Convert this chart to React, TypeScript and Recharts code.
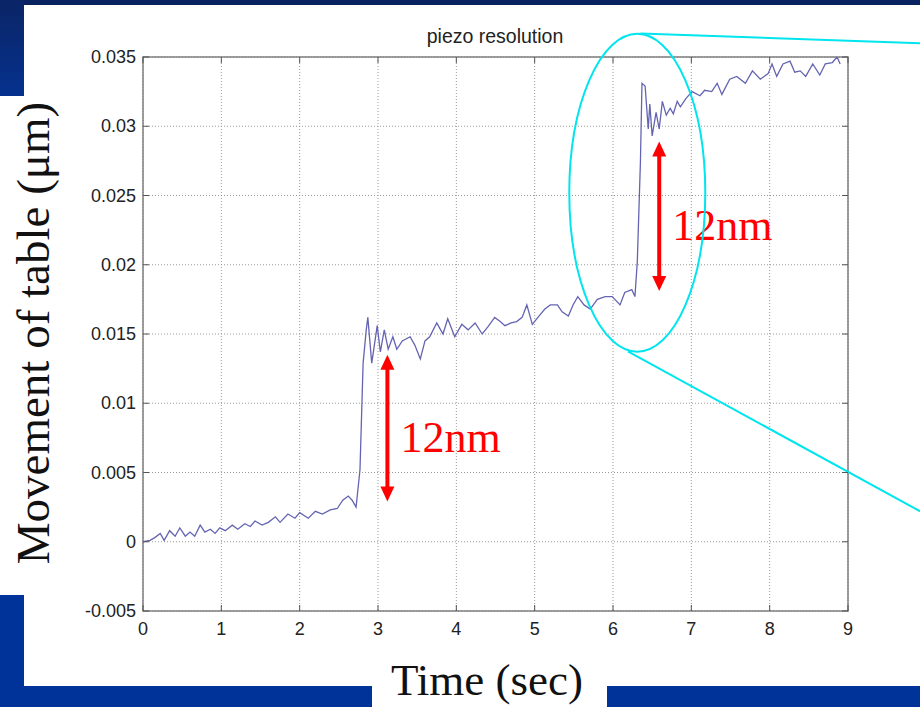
import React from "react";
import {
  LineChart,
  Line,
  XAxis,
  YAxis,
  CartesianGrid,
  ReferenceArea,
  ReferenceLine,
  ReferenceDot,
} from "recharts";

// sample times (sec)
const timeSec = [
  0.0, 0.09, 0.15, 0.22, 0.27, 0.34, 0.41, 0.47, 0.54, 0.6, 0.66, 0.73, 0.79,
  0.86, 0.92, 0.98, 1.05, 1.14, 1.21, 1.3, 1.37, 1.43, 1.52, 1.6, 1.69, 1.75,
  1.85, 1.94, 2.0, 2.11, 2.2, 2.29, 2.39, 2.48, 2.55, 2.62, 2.67, 2.72, 2.77,
  2.81, 2.85, 2.87, 2.92, 2.99, 3.03, 3.08, 3.13, 3.19, 3.24, 3.31, 3.41, 3.47,
  3.54, 3.6, 3.66, 3.75, 3.83, 3.89, 3.98, 4.07, 4.15, 4.24, 4.33, 4.4, 4.49,
  4.56, 4.62, 4.7, 4.77, 4.84, 4.9, 4.97, 5.07, 5.13, 5.2, 5.29, 5.35, 5.43,
  5.49, 5.55, 5.63, 5.71, 5.8, 5.9, 5.99, 6.09, 6.15, 6.24, 6.28, 6.31, 6.35,
  6.37, 6.41, 6.45, 6.47, 6.5, 6.55, 6.59, 6.63, 6.68, 6.73, 6.77, 6.82, 6.86,
  6.93, 7.01, 7.11, 7.17, 7.26, 7.33, 7.39, 7.49, 7.58, 7.69, 7.78, 7.88, 7.98,
  8.03, 8.09, 8.17, 8.26, 8.32, 8.39, 8.46, 8.55, 8.64, 8.71, 8.8, 8.86, 8.9,
];

// table movement (um)
const movementUm = [
  0.0, 0.0001, 0.0003, 0.0006, 0.0001, 0.0008, 0.0004, 0.001, 0.0004, 0.0007,
  0.0004, 0.0012, 0.0007, 0.0009, 0.0006, 0.001, 0.0008, 0.0012, 0.0009,
  0.0013, 0.0011, 0.0015, 0.0012, 0.0014, 0.0018, 0.0014, 0.002, 0.0017,
  0.0021, 0.0017, 0.0022, 0.002, 0.0023, 0.0024, 0.003, 0.0033, 0.003, 0.0025,
  0.0052, 0.0129, 0.0153, 0.0162, 0.0129, 0.0156, 0.0137, 0.0153, 0.0139,
  0.0148, 0.0139, 0.0145, 0.0148, 0.0142, 0.0132, 0.0145, 0.0148, 0.0158,
  0.015, 0.0161, 0.0148, 0.0157, 0.0153, 0.0158, 0.015, 0.0155, 0.0162, 0.0159,
  0.0156, 0.0158, 0.0159, 0.0162, 0.0171, 0.0157, 0.0164, 0.0168, 0.0171,
  0.0171, 0.0166, 0.0163, 0.0171, 0.0177, 0.0171, 0.0168, 0.0175, 0.0177,
  0.0177, 0.0171, 0.018, 0.0182, 0.0177, 0.0202, 0.0274, 0.0331, 0.0329,
  0.0298, 0.0316, 0.0293, 0.031, 0.0298, 0.0318, 0.0308, 0.0313, 0.0309,
  0.0318, 0.0314, 0.032, 0.0325, 0.0322, 0.0326, 0.0325, 0.0331, 0.0323,
  0.0334, 0.0336, 0.0331, 0.034, 0.0334, 0.0338, 0.0345, 0.0336, 0.0345,
  0.0347, 0.0339, 0.034, 0.0336, 0.0345, 0.0337, 0.0345, 0.0346, 0.035, 0.0345,
];

const xTicks = [0, 1, 2, 3, 4, 5, 6, 7, 8, 9];
const yTicks = [-0.005, 0, 0.005, 0.01, 0.015, 0.02, 0.025, 0.03, 0.035];
const yTickLabels = ["-0.005", "0", "0.005", "0.01", "0.015", "0.02", "0.025", "0.03", "0.035"];

const data = timeSec.map((t, i) => ({ t, v: movementUm[i] }));

const W = 920;
const H = 707;
const PLOT_L = 143;
const PLOT_T = 57;
const PLOT_W = 705;
const PLOT_H = 554;
const TICK = 6;
const SANS = "'Liberation Sans', Arial, sans-serif";
const SERIF = "'Liberation Serif', 'Times New Roman', serif";

const renderYTick = (props: any) => {
  const { x, y, payload } = props;
  const label = yTickLabels[yTicks.indexOf(payload.value)];
  return (
    <g>
      <text x={x} y={y} dy={6} textAnchor="end" fontSize={18} fontFamily={SANS} fill="#222">
        {label}
      </text>
      <line x1={PLOT_L} x2={PLOT_L + TICK} y1={y} y2={y} stroke="#555" />
      <line x1={PLOT_L + PLOT_W - TICK} x2={PLOT_L + PLOT_W} y1={y} y2={y} stroke="#555" />
    </g>
  );
};

const renderXTick = (props: any) => {
  const { x, y, payload } = props;
  const bottom = PLOT_T + PLOT_H;
  return (
    <g>
      <text x={x} y={y} dy={16} textAnchor="middle" fontSize={18} fontFamily={SANS} fill="#222">
        {payload.value}
      </text>
      <line x1={x} x2={x} y1={bottom} y2={bottom - TICK} stroke="#555" />
      <line x1={x} x2={x} y1={PLOT_T} y2={PLOT_T + TICK} stroke="#555" />
    </g>
  );
};

// red double-headed arrow with its label
const StepArrow = (props: any) => {
  const { x1, y1, x2, y2 } = props;
  const top = Math.min(y1, y2);
  const bot = Math.max(y1, y2);
  const mid = (top + bot) / 2;
  return (
    <g>
      <line x1={x1} x2={x2} y1={top + 12} y2={bot - 12} stroke="#ff0000" strokeWidth={4} />
      <polygon points={`${x1},${top} ${x1 - 7},${top + 15} ${x1 + 7},${top + 15}`} fill="#ff0000" />
      <polygon points={`${x1},${bot} ${x1 - 7},${bot - 15} ${x1 + 7},${bot - 15}`} fill="#ff0000" />
      <text x={x1 + 13} y={mid + 24} fontSize={44} fontFamily={SERIF} fill="#ff0000">
        12nm
      </text>
    </g>
  );
};

const ZoomEllipse = (props: any) => (
  <ellipse cx={props.cx} cy={props.cy} rx={68} ry={159} fill="none" stroke="#00e5ee" strokeWidth={2} />
);

export default function App() {
  return (
    <div style={{ position: "absolute", left: 0, top: 0, width: W, height: H, background: "#fff", overflow: "hidden" }}>
      <svg width={W} height={H} style={{ position: "absolute", left: 0, top: 0 }}>
        <defs>
          <linearGradient id="navy" x1="0" y1="0" x2="0" y2="1">
            <stop offset="0" stopColor="#0b2566" />
            <stop offset="1" stopColor="#05318e" />
          </linearGradient>
        </defs>
        <rect x={0} y={0} width={W} height={5} fill="#082360" />
        <rect x={0} y={0} width={24} height={96} fill="url(#navy)" />
        <rect x={0} y={595} width={24} height={112} fill="#003399" />
        <rect x={0} y={686} width={372} height={21} fill="#003399" />
        <rect x={607} y={686} width={313} height={21} fill="#003399" />
      </svg>
      <div style={{ position: "absolute", left: 0, top: 0 }}>
        <LineChart width={W} height={H} data={data} margin={{ top: PLOT_T, right: 72, bottom: 66, left: 83 }}>
          <CartesianGrid stroke="#9a9a9a" strokeDasharray="1 2" />
          <XAxis
            dataKey="t"
            type="number"
            domain={[0, 9]}
            ticks={xTicks}
            height={30}
            tickSize={0}
            tickMargin={8}
            axisLine={false}
            tickLine={false}
            tick={renderXTick}
            interval={0}
            allowDataOverflow
          />
          <YAxis
            type="number"
            domain={[-0.005, 0.035]}
            ticks={yTicks}
            width={60}
            tickSize={0}
            tickMargin={7}
            axisLine={false}
            tickLine={false}
            tick={renderYTick}
            interval={0}
            allowDataOverflow
          />
          <ReferenceArea x1={0} x2={9} y1={-0.005} y2={0.035} fill="none" stroke="#7f7f7f" strokeWidth={1.5} />
          <Line
            dataKey="v"
            type="linear"
            stroke="#6464b2"
            strokeWidth={1.3}
            dot={false}
            isAnimationActive={false}
          />
          <ReferenceDot x={6.31} y={0.0252} ifOverflow="visible" shape={ZoomEllipse} />
          <ReferenceLine
            segment={[{ x: 6.35, y: 0.0367 }, { x: 9.92, y: 0.036 }]}
            ifOverflow="visible"
            stroke="#00e5ee"
            strokeWidth={2}
          />
          <ReferenceLine
            segment={[{ x: 6.19, y: 0.01375 }, { x: 9.92, y: 0.0022 }]}
            ifOverflow="visible"
            stroke="#00e5ee"
            strokeWidth={2}
          />
          <ReferenceLine
            segment={[{ x: 3.12, y: 0.0029 }, { x: 3.12, y: 0.0135 }]}
            ifOverflow="visible"
            shape={StepArrow}
          />
          <ReferenceLine
            segment={[{ x: 6.59, y: 0.0181 }, { x: 6.59, y: 0.0289 }]}
            ifOverflow="visible"
            shape={StepArrow}
          />
        </LineChart>
      </div>
      <svg width={W} height={H} style={{ position: "absolute", left: 0, top: 0, pointerEvents: "none" }}>
        <text x={495} y={43} textAnchor="middle" fontSize={19.5} fontFamily={SANS} fill="#222">
          piezo resolution
        </text>
        <text
          transform="translate(49,333) rotate(-90)"
          textAnchor="middle"
          fontSize={47}
          fontFamily={SERIF}
          fill="#111"
        >
          Movement of table (μm)
        </text>
        <text x={487} y={695} textAnchor="middle" fontSize={45} fontFamily={SERIF} fill="#111">
          Time (sec)
        </text>
      </svg>
    </div>
  );
}
